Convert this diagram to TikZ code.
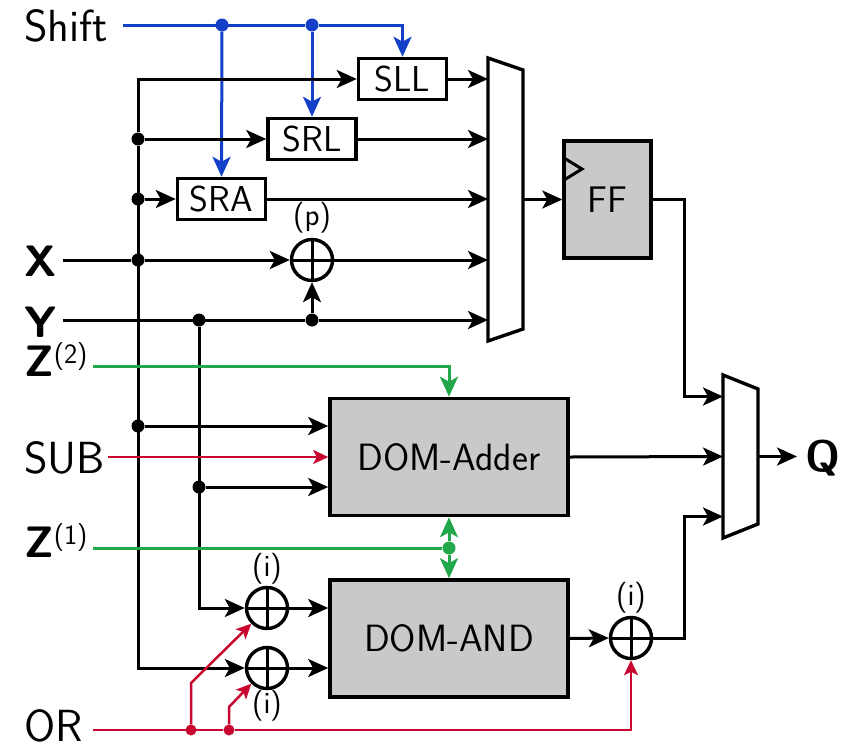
\documentclass[tikz,border=0pt]{standalone}
\usepackage{xcolor}
\usepackage{tikz}
\usetikzlibrary{arrows.meta}
\definecolor{wireblue}{HTML}{1440C8}
\definecolor{wiregreen}{HTML}{22A84A}
\definecolor{wirered}{HTML}{C8062F}
\definecolor{blockgray}{HTML}{C9C9C9}
\tikzstyle{sh} = [rectangle, minimum width=88pt, minimum height=41pt, inner sep=0pt, text centered, draw=black, line width=3.5pt, fill=white, font=\sffamily\fontsize{36}{36}\selectfont]
\tikzstyle{dom} = [rectangle, minimum width=238pt, minimum height=117pt, inner sep=0pt, text centered, draw=black, line width=3.6pt, fill=blockgray, font=\sffamily\fontsize{38}{38}\selectfont]
\tikzstyle{ff} = [rectangle, minimum width=87pt, minimum height=117pt, inner sep=0pt, text centered, draw=black, line width=3.4pt, fill=blockgray, font=\sffamily\fontsize{37}{37}\selectfont]
\tikzstyle{oplus} = [circle, minimum size=41pt, inner sep=0pt, draw=black, line width=3.4pt, fill=white, path picture={\draw [line width=3pt] (path picture bounding box.north) -- (path picture bounding box.south) (path picture bounding box.west) -- (path picture bounding box.east);}]
\tikzstyle{muxbody} = [rectangle, minimum width=35pt, inner sep=0pt, outer sep=0pt]
\tikzstyle{muxline} = [line width=3.4pt, draw=black, fill=white]
\tikzstyle{dot} = [circle, minimum size=13pt, inner sep=0pt, fill=black]
\tikzstyle{inname} = [anchor=west, inner sep=0pt, font=\sffamily\fontsize{45}{45}\selectfont]
\tikzstyle{inbold} = [anchor=west, inner sep=0pt, font=\sffamily\bfseries\fontsize{44}{44}\selectfont]
\tikzstyle{tag} = [inner sep=0pt, font=\sffamily\fontsize{31}{31}\selectfont]
\tikzstyle{arrow} = [line width=3pt,-{Stealth[length=20pt,width=18pt,inset=5pt]}]
\tikzstyle{wire} = [line width=3pt]
\tikzstyle{bluearrow} = [arrow, color=wireblue]
\tikzstyle{greenarrow} = [arrow, color=wiregreen]
\tikzstyle{redarrow} = [line width=2.5pt,-{Stealth[length=15pt,width=14pt,inset=3.5pt]}, color=wirered]
\newcommand{\supnum}[1]{\raisebox{13pt}{\mdseries\fontsize{28}{28}\selectfont(#1)}}
\begin{document}
\begin{tikzpicture}[x=1pt, y=-1pt, node distance=60.5pt]

\useasboundingbox (0,0) rectangle (843,745);

\node (shift) [inname] at (24,26) {Shift};
\node (x) [inbold] at (24,261) {X};
\node (y) [inbold] at (24,322) {Y};
\node (z2) [inbold] at (24,360) {Z\supnum{2}};
\node (sub) [inname] at (24,458) {SUB};
\node (z1) [inbold] at (24,541) {Z\supnum{1}};
\node (or) [inname] at (24,726) {OR};

\coordinate (shiftin) at (123,25);
\coordinate (xin) at (63,260);
\coordinate (yin) at (63,320);
\coordinate (z2in) at (93,366);
\coordinate (subin) at (108,457);
\coordinate (z1in) at (93,548);
\coordinate (orin) at (93,730);

\node (sra) [sh] at (221.5,199) {SRA};
\node (srl) [sh, right of=sra, xshift=30pt, yshift=60pt] {SRL};
\node (sll) [sh, right of=srl, xshift=30pt, yshift=60pt] {SLL};

\node (xorp) [oplus] at (312,260) {};
\node (tagp) [tag] at (312,218) {(p)};

\node (muxa) [muxbody, minimum height=283pt] at (505.5,199.5) {};
\draw [muxline] (muxa.north west) -- ([yshift=-12pt]muxa.north east) -- ([yshift=12pt]muxa.south east) -- (muxa.south west) -- cycle;
\node (reg) [ff] at (607.5,199.5) {FF};
\coordinate (clka) at (564,158);
\coordinate (clkb) at (582,169);
\coordinate (clkc) at (564,180);

\node (adder) [dom] at (449,457) {DOM-Adder};
\node (and) [dom] at (449,638.5) {DOM-AND};

\node (xori) [oplus] at (267,608) {};
\node (xorj) [oplus] at (267,668) {};
\node (xork) [oplus] at (631,638) {};
\node (tagi) [tag] at (267,569) {(i)};
\node (tagj) [tag] at (267,706) {(i)};
\node (tagk) [tag] at (631,598) {(i)};

\node (muxb) [muxbody, minimum height=163pt] at (740.5,456.5) {};
\draw [muxline] (muxb.north west) -- ([yshift=-14pt]muxb.north east) -- ([yshift=14pt]muxb.south east) -- (muxb.south west) -- cycle;
\node (q) [inbold] at (805,458) {Q};

\node (ba) [dot, fill=wireblue] at (222,25) {};
\node (bb) [dot, fill=wireblue] at (312,25) {};

\node (d1) [dot] at (138,139) {};
\node (d2) [dot] at (138,199) {};
\node (d3) [dot] at (138,260) {};
\node (d4) [dot] at (138,426) {};
\node (d5) [dot] at (199,320) {};
\node (d6) [dot] at (312,320) {};
\node (d7) [dot] at (199,487) {};

\node (gd) [dot, fill=wiregreen] at (449,548) {};
\node (ra) [dot, minimum size=11pt, fill=wirered] at (191,730) {};
\node (rb) [dot, minimum size=11pt, fill=wirered] at (229,730) {};

\draw [wire, color=wireblue] (shiftin) -- (bb);
\draw [bluearrow] (bb) -| (sll.north);
\draw [bluearrow] (ba) -- (sra.north);
\draw [bluearrow] (bb) -- (srl.north);

\draw [arrow] (d1) |- (sll.west);
\draw [arrow] (d1) -- (srl.west);
\draw [arrow] (d2) -- (sra.west);
\draw [arrow] (d1) |- (xorj.west);
\draw [wire] (xin) -- (d3);
\draw [arrow] (d3) -- (xorp.west);
\draw [wire] (yin) -- (d6);
\draw [arrow] (d6) -- (xorp.south);

\draw [arrow] (sll.east) -- (sll.east -| muxa.west);
\draw [arrow] (srl.east) -- (srl.east -| muxa.west);
\draw [arrow] (sra.east) -- (sra.east -| muxa.west);
\draw [arrow] (xorp.east) -- (xorp.east -| muxa.west);
\draw [arrow] (d6) -- (d6 -| muxa.west);

\draw [arrow] (muxa.east) -- (reg.west);
\draw [wire] (clka) -- (clkb) -- (clkc);

\draw [arrow] (d4) -- (d4 -| adder.west);
\draw [arrow] (d7) -- (d7 -| adder.west);
\draw [arrow] (d5) |- (xori.west);
\draw [arrow] (xori.east) -- (xori.east -| and.west);
\draw [arrow] (xorj.east) -- (xorj.east -| and.west);
\draw [arrow] (and.east) -- (xork.west);

\draw [arrow] (reg.east) -- ++(32,0) |- ([yshift=60pt]muxb.west);
\draw [arrow] (adder.east) -- (muxb.west);
\draw [arrow] (xork.east) -- ++(31,0) |- ([yshift=-60pt]muxb.west);
\draw [arrow] (muxb.east) -- ++(39,0);

\draw [greenarrow] (z2in) -| (adder.north);
\draw [wire, color=wiregreen] (z1in) -- (gd);
\draw [greenarrow] (gd) -- (adder.south);
\draw [greenarrow] (gd) -- (and.north);

\draw [redarrow] (subin) -- (adder.west);
\draw [line width=2.5pt, color=wirered] (orin) -- (rb);
\draw [redarrow] (rb) -| (xork.south);
\draw [redarrow] (ra) -- ++(0,-47) -- (xori.south west);
\draw [redarrow] (rb) -- ++(0,-23) -- (xorj.south west);

\end{tikzpicture}
\end{document}
